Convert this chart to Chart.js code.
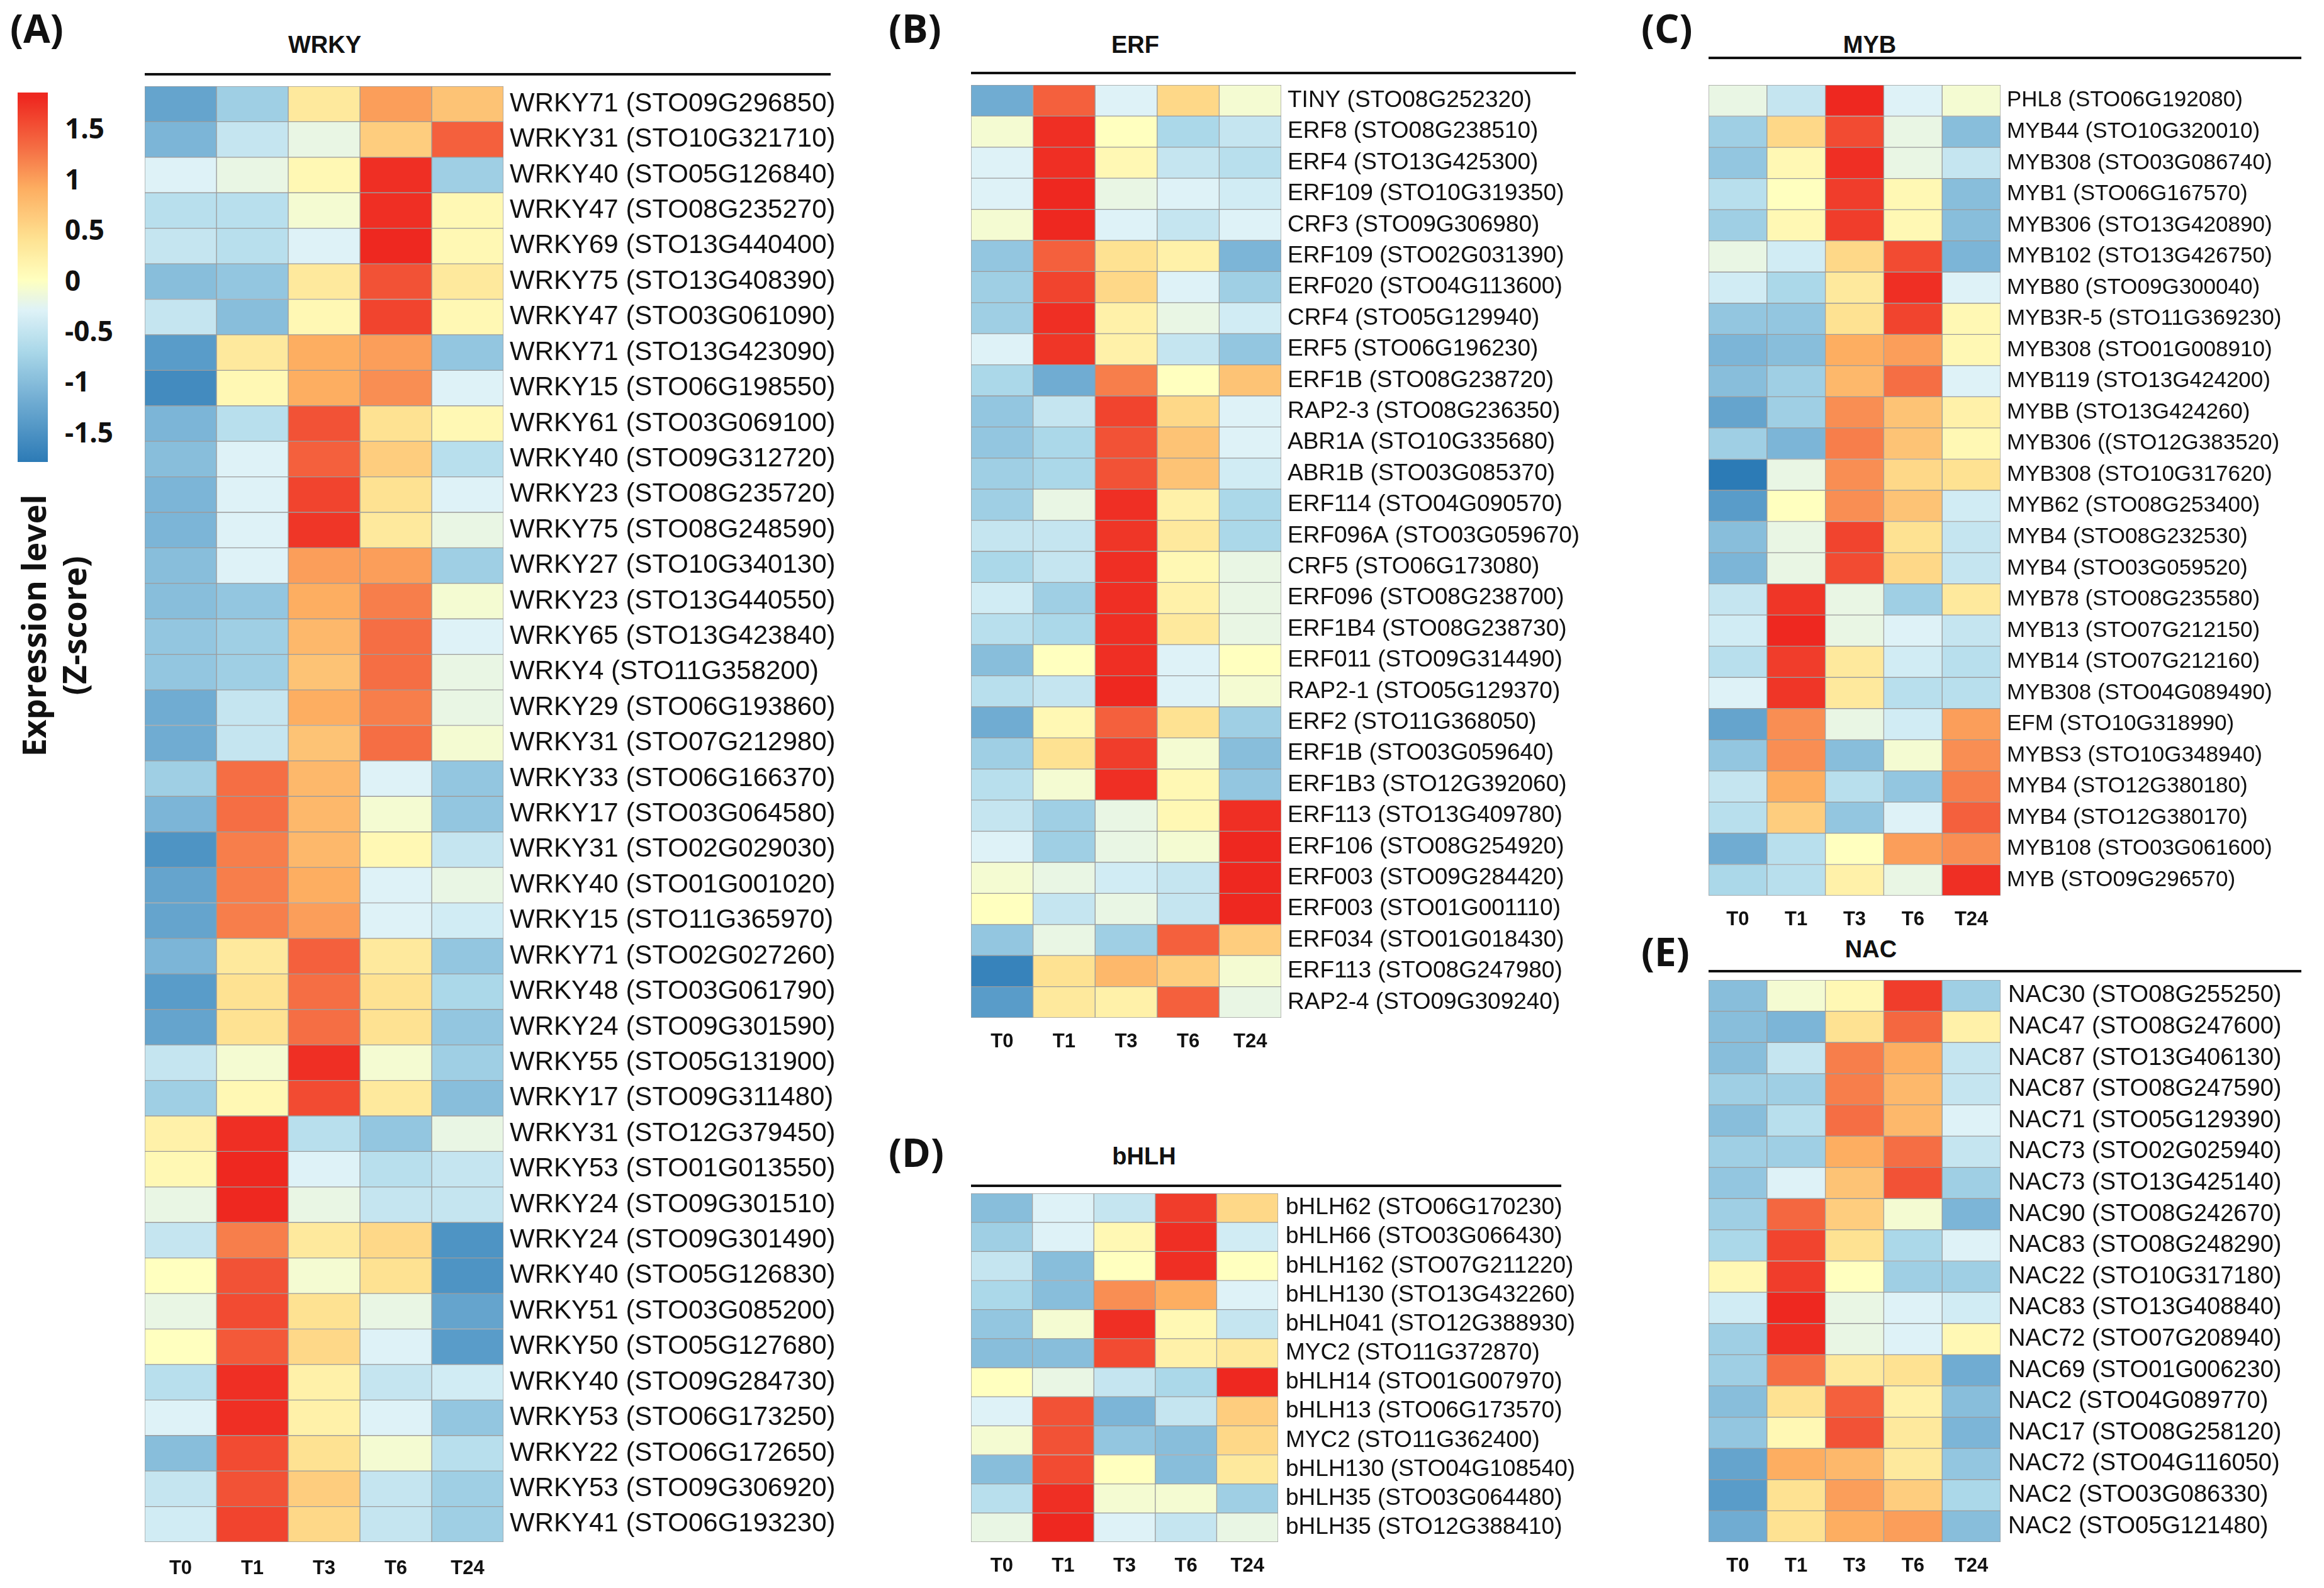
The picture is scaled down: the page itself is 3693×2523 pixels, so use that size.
<!DOCTYPE html>
<html>
<head>
<meta charset="utf-8">
<script src="https://cdn.jsdelivr.net/npm/chart.js@4.4.1/dist/chart.umd.min.js"></script>
<style>
  html, body { margin: 0; padding: 0; background: #fff; }
  body { width: 3693px; height: 2523px; position: relative; overflow: hidden; font-family: "Liberation Sans", Arial, sans-serif; color: #111; }
  .abs { position: absolute; white-space: nowrap; }
  .letter { font-family: "Open Sans", "Liberation Sans", sans-serif; font-weight: 700; font-size: 62px; line-height: 1; }
  .fam { font-weight: 700; font-size: 38px; line-height: 1; transform: translate(-50%, -50%); }
  .rule { height: 4px; background: #111; }
  .cbtick { font-family: "Open Sans", "Liberation Sans", sans-serif; font-weight: 700; font-size: 44px; line-height: 1; transform: translateY(-50%); }
  .box { position: absolute; }
</style>
</head>
<body>

<div class="abs letter" style="left:16px; top:13px;">(A)</div>
<div class="abs letter" style="left:1412px; top:13px;">(B)</div>
<div class="abs letter" style="left:2608px; top:13px;">(C)</div>
<div class="abs letter" style="left:1412px; top:1799px;">(D)</div>
<div class="abs letter" style="left:2608px; top:1480px;">(E)</div>

<div class="abs fam" style="left:516px; top:71px;">WRKY</div>
<div class="abs fam" style="left:1804px; top:71px;">ERF</div>
<div class="abs fam" style="left:2971px; top:71px;">MYB</div>
<div class="abs fam" style="left:1818px; top:1837px;">bHLH</div>
<div class="abs fam" style="left:2973px; top:1508px;">NAC</div>

<div class="abs rule" style="left:230px; top:116px; width:1090px;"></div>
<div class="abs rule" style="left:1543px; top:114px; width:961px;"></div>
<div class="abs rule" style="left:2715px; top:90px; width:942px;"></div>
<div class="abs rule" style="left:1543px; top:1882px; width:938px;"></div>
<div class="abs rule" style="left:2715px; top:1541px; width:942px;"></div>

<div id="colorbar" class="abs" style="left:28px; top:147px; width:48px; height:587px;"></div>
<div id="cblabels"></div>
<div class="abs" style="left:85px; top:994px; transform:translate(-50%,-50%) rotate(-90deg); text-align:center; font-family:'Open Sans','Liberation Sans',sans-serif; font-weight:700; font-size:52px; line-height:64px;">Expression level<br>(Z-score)</div>

<script>
// punkty czasowe (kolumny) i skala kolorów
const timePoints = ['T0', 'T1', 'T3', 'T6', 'T24'];
const scaleMin = -1.8;
const scaleMax = 1.85;
const colorbarTicks = [1.5, 1, 0.5, 0, -0.5, -1, -1.5];

// (A) WRKY
const wrkyGenes = [
  'WRKY71 (STO09G296850)', 'WRKY31 (STO10G321710)', 'WRKY40 (STO05G126840)', 'WRKY47 (STO08G235270)',
  'WRKY69 (STO13G440400)', 'WRKY75 (STO13G408390)', 'WRKY47 (STO03G061090)', 'WRKY71 (STO13G423090)',
  'WRKY15 (STO06G198550)', 'WRKY61 (STO03G069100)', 'WRKY40 (STO09G312720)', 'WRKY23 (STO08G235720)',
  'WRKY75 (STO08G248590)', 'WRKY27 (STO10G340130)', 'WRKY23 (STO13G440550)', 'WRKY65 (STO13G423840)',
  'WRKY4 (STO11G358200)', 'WRKY29 (STO06G193860)', 'WRKY31 (STO07G212980)', 'WRKY33 (STO06G166370)',
  'WRKY17 (STO03G064580)', 'WRKY31 (STO02G029030)', 'WRKY40 (STO01G001020)', 'WRKY15 (STO11G365970)',
  'WRKY71 (STO02G027260)', 'WRKY48 (STO03G061790)', 'WRKY24 (STO09G301590)', 'WRKY55 (STO05G131900)',
  'WRKY17 (STO09G311480)', 'WRKY31 (STO12G379450)', 'WRKY53 (STO01G013550)', 'WRKY24 (STO09G301510)',
  'WRKY24 (STO09G301490)', 'WRKY40 (STO05G126830)', 'WRKY51 (STO03G085200)', 'WRKY50 (STO05G127680)',
  'WRKY40 (STO09G284730)', 'WRKY53 (STO06G173250)', 'WRKY22 (STO06G172650)', 'WRKY53 (STO09G306920)',
  'WRKY41 (STO06G193230)'
];
const wrkyZ = [
  [-1.3, -0.8, 0.3, 1.0, 0.7], [-1.1, -0.5, -0.2, 0.6, 1.4], [-0.3, -0.2, 0.1, 1.75, -0.8],
  [-0.6, -0.6, -0.1, 1.75, 0.1], [-0.5, -0.6, -0.3, 1.8, 0.1], [-1.0, -0.9, 0.3, 1.5, 0.3],
  [-0.5, -1.0, 0.1, 1.6, 0.1], [-1.4, 0.3, 0.9, 1.0, -0.9], [-1.6, 0.1, 0.9, 1.1, -0.3],
  [-1.1, -0.6, 1.5, 0.4, 0.1], [-1.0, -0.3, 1.4, 0.6, -0.6], [-1.1, -0.3, 1.6, 0.4, -0.3],
  [-1.1, -0.3, 1.7, 0.3, -0.2], [-1.0, -0.3, 1.0, 1.0, -0.8], [-1.0, -0.9, 0.9, 1.2, -0.1],
  [-0.9, -0.8, 0.8, 1.3, -0.3], [-0.9, -0.8, 0.7, 1.3, -0.2], [-1.2, -0.5, 0.9, 1.2, -0.2],
  [-1.2, -0.5, 0.7, 1.3, -0.1], [-0.8, 1.3, 0.8, -0.3, -0.9], [-1.1, 1.3, 0.8, -0.1, -0.9],
  [-1.5, 1.2, 0.8, 0.1, -0.5], [-1.3, 1.2, 0.9, -0.3, -0.2], [-1.3, 1.2, 1.0, -0.3, -0.4],
  [-1.1, 0.3, 1.4, 0.3, -0.9], [-1.4, 0.4, 1.3, 0.4, -0.7], [-1.3, 0.4, 1.3, 0.4, -0.9],
  [-0.5, -0.1, 1.75, -0.1, -0.8], [-0.8, 0.1, 1.55, 0.3, -1.0], [0.2, 1.75, -0.6, -0.9, -0.2],
  [0.1, 1.8, -0.3, -0.6, -0.5], [-0.2, 1.8, -0.2, -0.5, -0.5], [-0.5, 1.2, 0.3, 0.5, -1.5],
  [0.0, 1.5, -0.1, 0.4, -1.5], [-0.2, 1.55, 0.4, -0.2, -1.3], [0.0, 1.45, 0.5, -0.3, -1.4],
  [-0.6, 1.75, 0.2, -0.5, -0.4], [-0.3, 1.75, 0.2, -0.3, -0.9], [-1.0, 1.55, 0.4, -0.1, -0.6],
  [-0.5, 1.5, 0.6, -0.5, -0.8], [-0.4, 1.6, 0.5, -0.5, -0.8]
];

// (B) ERF
const erfGenes = [
  'TINY (STO08G252320)', 'ERF8 (STO08G238510)', 'ERF4 (STO13G425300)', 'ERF109 (STO10G319350)',
  'CRF3 (STO09G306980)', 'ERF109 (STO02G031390)', 'ERF020 (STO04G113600)', 'CRF4 (STO05G129940)',
  'ERF5 (STO06G196230)', 'ERF1B (STO08G238720)', 'RAP2-3 (STO08G236350)', 'ABR1A (STO10G335680)',
  'ABR1B (STO03G085370)', 'ERF114 (STO04G090570)', 'ERF096A (STO03G059670)', 'CRF5 (STO06G173080)',
  'ERF096 (STO08G238700)', 'ERF1B4 (STO08G238730)', 'ERF011 (STO09G314490)', 'RAP2-1 (STO05G129370)',
  'ERF2 (STO11G368050)', 'ERF1B (STO03G059640)', 'ERF1B3 (STO12G392060)', 'ERF113 (STO13G409780)',
  'ERF106 (STO08G254920)', 'ERF003 (STO09G284420)', 'ERF003 (STO01G001110)', 'ERF034 (STO01G018430)',
  'ERF113 (STO08G247980)', 'RAP2-4 (STO09G309240)'
];
const erfZ = [
  [-1.2, 1.4, -0.3, 0.5, -0.1], [-0.1, 1.75, 0.0, -0.7, -0.5], [-0.3, 1.75, 0.1, -0.5, -0.6],
  [-0.3, 1.8, -0.2, -0.3, -0.4], [-0.1, 1.8, -0.3, -0.5, -0.3], [-0.9, 1.4, 0.4, 0.2, -1.1],
  [-0.8, 1.6, 0.5, -0.3, -0.8], [-0.8, 1.75, 0.2, -0.2, -0.4], [-0.3, 1.7, 0.2, -0.5, -0.9],
  [-0.7, -1.2, 1.2, 0.0, 0.7], [-0.9, -0.5, 1.6, 0.5, -0.3], [-0.9, -0.7, 1.5, 0.7, -0.3],
  [-0.8, -0.7, 1.5, 0.7, -0.4], [-0.8, -0.2, 1.75, 0.2, -0.7], [-0.5, -0.5, 1.7, 0.3, -0.7],
  [-0.7, -0.5, 1.75, 0.1, -0.2], [-0.4, -0.8, 1.75, 0.2, -0.2], [-0.6, -0.7, 1.75, 0.3, -0.2],
  [-1.0, 0.0, 1.75, -0.3, 0.0], [-0.6, -0.5, 1.8, -0.3, -0.1], [-1.2, 0.1, 1.4, 0.4, -0.8],
  [-0.8, 0.4, 1.65, -0.1, -1.0], [-0.6, -0.1, 1.75, 0.1, -0.9], [-0.5, -0.8, -0.2, 0.1, 1.75],
  [-0.3, -0.8, -0.2, -0.1, 1.8], [-0.1, -0.2, -0.4, -0.5, 1.8], [0.0, -0.5, -0.2, -0.5, 1.8],
  [-0.9, -0.2, -0.8, 1.4, 0.6], [-1.7, 0.4, 0.8, 0.6, -0.1], [-1.4, 0.3, 0.2, 1.4, -0.2]
];

// (C) MYB
const mybGenes = [
  'PHL8 (STO06G192080)', 'MYB44 (STO10G320010)', 'MYB308 (STO03G086740)', 'MYB1 (STO06G167570)',
  'MYB306 (STO13G420890)', 'MYB102 (STO13G426750)', 'MYB80 (STO09G300040)', 'MYB3R-5 (STO11G369230)',
  'MYB308 (STO01G008910)', 'MYB119 (STO13G424200)', 'MYBB (STO13G424260)', 'MYB306 ((STO12G383520)',
  'MYB308 (STO10G317620)', 'MYB62 (STO08G253400)', 'MYB4 (STO08G232530)', 'MYB4 (STO03G059520)',
  'MYB78 (STO08G235580)', 'MYB13 (STO07G212150)', 'MYB14 (STO07G212160)', 'MYB308 (STO04G089490)',
  'EFM (STO10G318990)', 'MYBS3 (STO10G348940)', 'MYB4 (STO12G380180)', 'MYB4 (STO12G380170)',
  'MYB108 (STO03G061600)', 'MYB (STO09G296570)'
];
const mybZ = [
  [-0.2, -0.5, 1.8, -0.3, -0.1], [-0.8, 0.5, 1.55, -0.2, -1.0], [-0.9, 0.1, 1.75, -0.2, -0.5],
  [-0.6, 0.0, 1.65, 0.1, -1.0], [-0.8, 0.1, 1.65, 0.1, -1.0], [-0.2, -0.4, 0.5, 1.55, -1.1],
  [-0.4, -0.7, 0.3, 1.75, -0.3], [-0.9, -0.9, 0.4, 1.6, 0.1], [-1.1, -1.0, 0.9, 1.0, 0.1],
  [-1.0, -0.8, 0.8, 1.3, -0.3], [-1.3, -0.8, 1.1, 0.7, 0.2], [-0.8, -1.1, 1.2, 0.7, 0.1],
  [-1.8, -0.2, 1.1, 0.5, 0.4], [-1.4, 0.0, 1.1, 0.7, -0.4], [-1.0, -0.2, 1.6, 0.4, -0.5],
  [-1.1, -0.2, 1.55, 0.5, -0.5], [-0.5, 1.7, -0.2, -0.8, 0.3], [-0.4, 1.8, -0.2, -0.3, -0.5],
  [-0.6, 1.65, 0.3, -0.4, -0.6], [-0.3, 1.7, 0.3, -0.6, -0.6], [-1.3, 1.1, -0.2, -0.4, 1.0],
  [-0.9, 1.1, -1.0, -0.1, 1.1], [-0.5, 0.9, -0.6, -0.9, 1.2], [-0.6, 0.6, -0.9, -0.3, 1.4],
  [-1.2, -0.6, 0.0, 1.0, 1.1], [-0.7, -0.6, 0.2, -0.2, 1.75]
];

// (D) bHLH
const bhlhGenes = [
  'bHLH62 (STO06G170230)', 'bHLH66 (STO03G066430)', 'bHLH162 (STO07G211220)', 'bHLH130 (STO13G432260)',
  'bHLH041 (STO12G388930)', 'MYC2 (STO11G372870)', 'bHLH14 (STO01G007970)', 'bHLH13 (STO06G173570)',
  'MYC2 (STO11G362400)', 'bHLH130 (STO04G108540)', 'bHLH35 (STO03G064480)', 'bHLH35 (STO12G388410)'
];
const bhlhZ = [
  [-1.0, -0.3, -0.5, 1.65, 0.5], [-0.8, -0.3, 0.1, 1.75, -0.4], [-0.5, -1.0, 0.0, 1.75, 0.0],
  [-0.7, -1.0, 1.1, 0.9, -0.3], [-0.9, -0.1, 1.75, 0.1, -0.5], [-1.0, -1.0, 1.55, 0.2, 0.3],
  [0.0, -0.2, -0.5, -0.7, 1.8], [-0.3, 1.5, -1.1, -0.5, 0.6], [-0.1, 1.5, -0.9, -1.0, 0.5],
  [-1.0, 1.55, 0.0, -1.0, 0.3], [-0.6, 1.75, -0.1, -0.1, -0.8], [-0.2, 1.8, -0.3, -0.5, -0.2]
];

// (E) NAC
const nacGenes = [
  'NAC30 (STO08G255250)', 'NAC47 (STO08G247600)', 'NAC87 (STO13G406130)', 'NAC87 (STO08G247590)',
  'NAC71 (STO05G129390)', 'NAC73 (STO02G025940)', 'NAC73 (STO13G425140)', 'NAC90 (STO08G242670)',
  'NAC83 (STO08G248290)', 'NAC22 (STO10G317180)', 'NAC83 (STO13G408840)', 'NAC72 (STO07G208940)',
  'NAC69 (STO01G006230)', 'NAC2 (STO04G089770)', 'NAC17 (STO08G258120)', 'NAC72 (STO04G116050)',
  'NAC2 (STO03G086330)', 'NAC2 (STO05G121480)'
];
const nacZ = [
  [-1.0, -0.1, 0.1, 1.65, -0.8], [-1.0, -1.1, 0.4, 1.35, 0.2], [-1.0, -0.5, 1.2, 0.9, -0.5],
  [-0.8, -0.8, 1.2, 0.8, -0.5], [-1.0, -0.6, 1.3, 0.8, -0.3], [-0.8, -0.8, 0.9, 1.3, -0.5],
  [-0.9, -0.3, 0.7, 1.5, -0.8], [-0.8, 1.35, 0.6, -0.1, -1.1], [-0.7, 1.6, 0.4, -0.7, -0.3],
  [0.1, 1.65, 0.0, -0.8, -0.8], [-0.4, 1.8, -0.2, -0.3, -0.4], [-0.8, 1.75, -0.2, -0.3, 0.1],
  [-0.8, 1.3, 0.3, 0.4, -1.2], [-1.0, 0.4, 1.4, 0.2, -1.0], [-0.9, 0.1, 1.5, 0.3, -1.1],
  [-1.3, 0.9, 0.8, 0.3, -0.9], [-1.4, 0.4, 1.0, 0.6, -0.7], [-1.2, 0.4, 0.9, 1.0, -1.0]
];

// paleta: niebieski -> bladożółty -> czerwony
const paletteStops = [
  [-1.8, [44, 123, 182]],
  [-1.2, [112, 172, 210]],
  [-0.7, [171, 216, 233]],
  [-0.3, [222, 242, 247]],
  [0, [255, 255, 191]],
  [0.4, [254, 226, 146]],
  [0.9, [253, 174, 97]],
  [1.3, [245, 110, 68]],
  [1.8, [238, 40, 32]]
];

function zColor(z) {
  const v = Math.max(paletteStops[0][0], Math.min(paletteStops[paletteStops.length - 1][0], z));
  for (let i = 0; i < paletteStops.length - 1; i++) {
    const [a, ca] = paletteStops[i];
    const [b, cb] = paletteStops[i + 1];
    if (v <= b) {
      const t = (v - a) / (b - a);
      const c = ca.map((x, k) => Math.round(x + (cb[k] - x) * t));
      return `rgb(${c[0]},${c[1]},${c[2]})`;
    }
  }
  return 'rgb(238,40,32)';
}

// pasek skali kolorów
const colorbar = document.getElementById('colorbar');
const span = scaleMax - scaleMin;
const gradStops = [];
for (let v = scaleMax; v >= scaleMin - 1e-9; v -= 0.05) {
  gradStops.push(`${zColor(v)} ${((scaleMax - v) / span * 100).toFixed(2)}%`);
}
colorbar.style.background = `linear-gradient(to bottom, ${gradStops.join(', ')})`;
const cbLabels = document.getElementById('cblabels');
colorbarTicks.forEach(v => {
  const d = document.createElement('div');
  d.className = 'abs cbtick';
  d.style.left = '103px';
  d.style.top = (147 + (scaleMax - v) / span * 587) + 'px';
  d.textContent = String(v);
  cbLabels.appendChild(d);
});

Chart.defaults.font.family = '"Liberation Sans", Arial, sans-serif';
Chart.defaults.color = '#111';

// rysowanie heatmapy jako poziomych, skumulowanych słupków
function drawHeatmap(genes, z, box) {
  const wrap = document.createElement('div');
  wrap.className = 'box';
  wrap.style.left = box.left + 'px';
  wrap.style.top = box.top + 'px';
  wrap.style.width = (box.mapW + box.labelW) + 'px';
  wrap.style.height = (box.mapH + box.axisH) + 'px';
  const canvas = document.createElement('canvas');
  wrap.appendChild(canvas);
  document.body.appendChild(wrap);

  const datasets = timePoints.map((tp, j) => ({
    label: tp,
    data: genes.map(() => 1),
    backgroundColor: z.map(row => zColor(row[j])),
    borderColor: '#9c9c9c',
    borderWidth: 1,
    borderSkipped: false,
    barPercentage: 1,
    categoryPercentage: 1
  }));

  return new Chart(canvas, {
    type: 'bar',
    data: { labels: genes, datasets },
    options: {
      indexAxis: 'y',
      responsive: true,
      maintainAspectRatio: false,
      devicePixelRatio: 1,
      animation: false,
      layout: { padding: 0 },
      plugins: { legend: { display: false }, tooltip: { enabled: false } },
      scales: {
        x: {
          stacked: true,
          min: 0,
          max: timePoints.length,
          position: 'bottom',
          grid: { display: false, drawTicks: false },
          border: { display: false },
          afterBuildTicks: axis => { axis.ticks = timePoints.map((t, i) => ({ value: i + 0.5 })); },
          afterFit: scale => { scale.height = box.axisH; scale.paddingLeft = 0; scale.paddingRight = 0; },
          ticks: {
            padding: box.axisPad,
            maxRotation: 0,
            autoSkip: false,
            font: { size: 31, weight: 'bold' },
            callback: (value, index) => timePoints[index]
          }
        },
        y: {
          stacked: true,
          position: 'right',
          grid: { display: false, drawTicks: false },
          border: { display: false },
          afterFit: scale => { scale.width = box.labelW; scale.paddingTop = 0; scale.paddingBottom = 0; },
          ticks: {
            padding: box.labelPad,
            autoSkip: false,
            font: { size: box.labelFont }
          }
        }
      }
    }
  });
}

drawHeatmap(wrkyGenes, wrkyZ, { left: 230, top: 137, mapW: 570, mapH: 2313, labelW: 560, axisH: 80, axisPad: 24, labelPad: 10, labelFont: 42 });
drawHeatmap(erfGenes, erfZ, { left: 1543, top: 135, mapW: 493, mapH: 1482, labelW: 560, axisH: 80, axisPad: 20, labelPad: 10, labelFont: 37 });
drawHeatmap(mybGenes, mybZ, { left: 2715, top: 135, mapW: 464, mapH: 1288, labelW: 505, axisH: 80, axisPad: 20, labelPad: 10, labelFont: 35 });
drawHeatmap(bhlhGenes, bhlhZ, { left: 1543, top: 1896, mapW: 488, mapH: 554, labelW: 560, axisH: 80, axisPad: 20, labelPad: 12, labelFont: 37 });
drawHeatmap(nacGenes, nacZ, { left: 2715, top: 1557, mapW: 464, mapH: 893, labelW: 505, axisH: 70, axisPad: 20, labelPad: 12, labelFont: 38 });
</script>
</body>
</html>
